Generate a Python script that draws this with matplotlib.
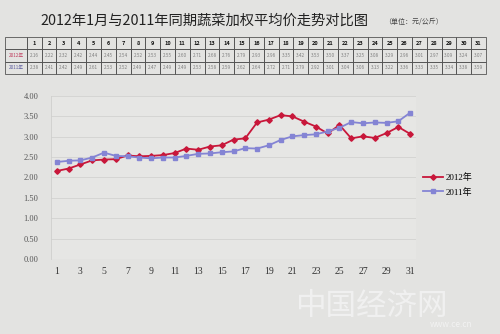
import matplotlib
matplotlib.use('Agg')
import matplotlib.pyplot as plt

plt.rcParams['font.family'] = ['Noto Sans CJK SC', 'DejaVu Sans']

# daily weighted average vegetable price (yuan/kg)
days = list(range(1, 32))
price_2012 = [2.16, 2.22, 2.32, 2.42, 2.44, 2.45, 2.54, 2.52, 2.53, 2.55, 2.60,
              2.71, 2.68, 2.76, 2.79, 2.93, 2.96, 3.35, 3.42, 3.53, 3.50, 3.37,
              3.25, 3.08, 3.29, 2.96, 3.01, 2.97, 3.09, 3.24, 3.07]
price_2011 = [2.38, 2.41, 2.42, 2.49, 2.61, 2.53, 2.52, 2.49, 2.47, 2.49, 2.49,
              2.53, 2.58, 2.59, 2.62, 2.64, 2.72, 2.71, 2.79, 2.92, 3.01, 3.04,
              3.06, 3.13, 3.22, 3.36, 3.33, 3.35, 3.34, 3.38, 3.59]
series_labels = ['2012年', '2011年']
xtick_days = list(range(1, 32, 2))
yticks = [0, 0.5, 1.0, 1.5, 2.0, 2.5, 3.0, 3.5, 4.0]

c2012 = '#c8173a'
c2011 = '#8484d4'
serif = ['Liberation Serif', 'Noto Sans CJK SC']

fig = plt.figure(figsize=(5, 3.34), dpi=100, facecolor='#e3e3e1')

fig.text(0.08, 0.937, '2012年1月与2011年同期蔬菜加权平均价走势对比图',
         fontsize=10.3, va='center', color='#222222')
fig.text(0.768, 0.935, '（单位：元/公斤）', fontsize=5, va='center', color='#444444')

# data table above the chart
tax = fig.add_axes([0.01, 0.778, 0.962, 0.111])
tax.axis('off')
cells = [[''] + [str(d) for d in days],
         [series_labels[0]] + [f'{v:.2f}' for v in price_2012],
         [series_labels[1]] + [f'{v:.2f}' for v in price_2011]]
widths = [22] + [14.9] * 31
tot = sum(widths)
tbl = tax.table(cellText=cells, colWidths=[w / tot for w in widths],
                bbox=[0, 0, 1, 1], cellLoc='center')
tbl.auto_set_font_size(False)
tbl.set_fontsize(3.4)
for (r, c), cell in tbl.get_celld().items():
    cell.set_facecolor('none')
    cell.set_edgecolor('#555555')
    cell.set_linewidth(0.6)
    txt = cell.get_text()
    if r == 0:
        txt.set_color('#111111')
        txt.set_fontweight('bold')
        txt.set_fontsize(4)
    elif c == 0:
        txt.set_color('#c04060' if r == 1 else '#6060a0')
    else:
        txt.set_color('#808080')

# line chart
ax = fig.add_axes([0.102, 0.2246, 0.73, 0.488])
ax.set_facecolor('#e6e6e4')
ax.plot(days, price_2012, color=c2012, marker='D', markersize=2.8, lw=1.3,
        label=series_labels[0])
ax.plot(days, price_2011, color=c2011, marker='s', markersize=3.3, lw=1.3,
        label=series_labels[1])
ax.set_xlim(0.5, 31.5)
ax.set_ylim(0, 4)
ax.set_yticks(yticks)
ax.set_yticklabels([f'{v:.2f}' for v in yticks], family=serif, fontsize=6,
                   color='#555555')
ax.set_xticks(xtick_days)
ax.set_xticklabels([str(d) for d in xtick_days], family=serif, fontsize=7,
                   color='#333333')
ax.tick_params(axis='y', length=0, pad=9)
ax.tick_params(axis='x', length=0, pad=6)
for s in ['top', 'right', 'bottom']:
    ax.spines[s].set_visible(False)
ax.spines['left'].set_color('#cfcfcd')
ax.spines['left'].set_linewidth(0.6)
ax.yaxis.grid(True, color='#d2d2d0', lw=0.6)
ax.set_axisbelow(True)

ax.legend(loc='upper left', bbox_to_anchor=(0.83, 0.505),
          bbox_transform=fig.transFigure, frameon=False,
          prop={'family': serif, 'size': 6.5}, handlelength=2.2,
          labelspacing=0.6, handletextpad=0.3)

# watermark
fig.text(0.59, 0.035, '中国经济网', fontsize=22, color='#f4f4f4', alpha=0.8,
         va='bottom')
fig.text(0.86, 0.02, 'www.ce.cn', fontsize=6, color='#f4f4f4', alpha=0.9)

fig.savefig('out.png', dpi=100, facecolor=fig.get_facecolor())
